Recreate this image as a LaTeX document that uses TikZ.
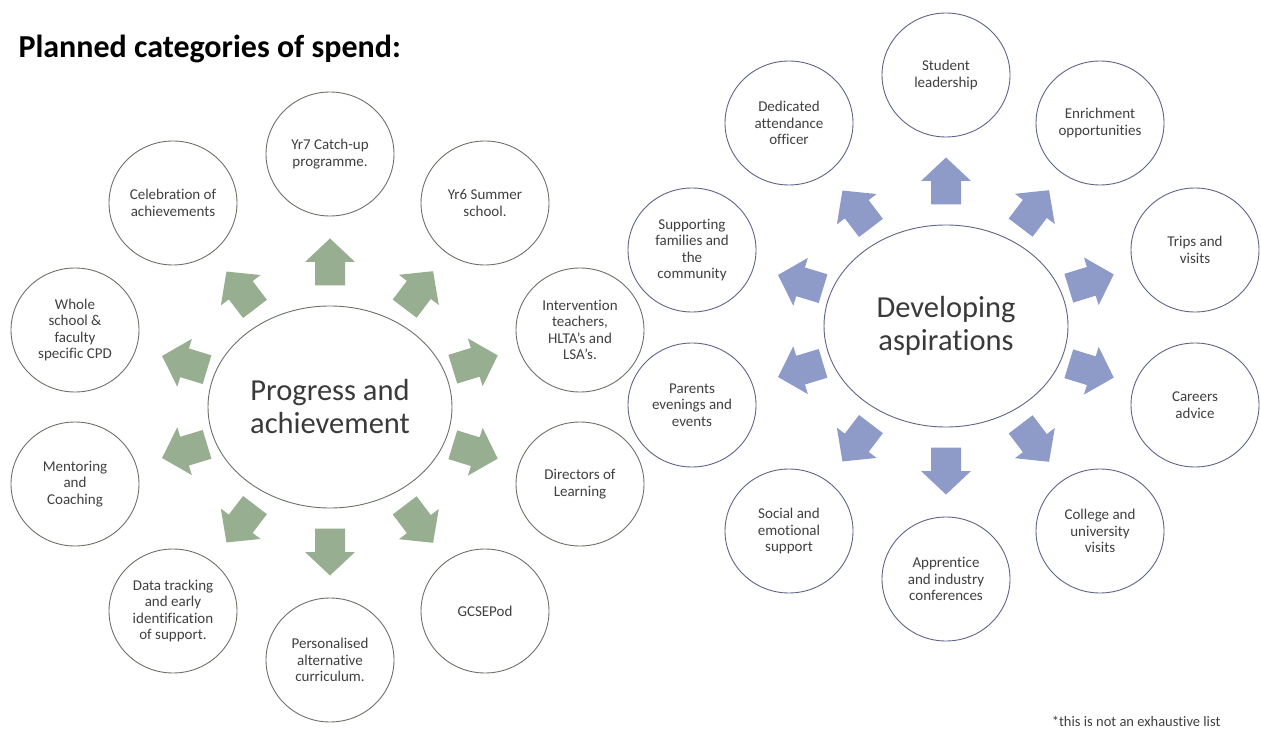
\documentclass[tikz,border=0pt]{standalone}
\usepackage{fontspec}
\setmainfont{Carlito}[Ligatures=NoCommon]
\usetikzlibrary{shapes.geometric,calc}
\definecolor{arrL}{HTML}{97AE90}
\definecolor{arrR}{HTML}{8E9AC8}
\definecolor{lineL}{HTML}{6B7266}
\definecolor{lineR}{HTML}{5F6488}
\definecolor{txt}{HTML}{404040}
\definecolor{txtC}{HTML}{3A3A3A}
\begin{document}
\begin{tikzpicture}[x=1pt,y=-1pt,
  satbase/.style={ellipse, line width=0.9pt, minimum width=128pt, minimum height=124pt,
    inner sep=0pt, align=center, text=txt, font=\fontsize{15}{16.4}\selectfont},
  satL/.style={satbase, draw=lineL},
  satR/.style={satbase, draw=lineR},
  hubbase/.style={ellipse, line width=0.9pt, minimum width=244pt, minimum height=202pt,
    inner sep=0pt, align=center, text=txtC, font=\fontsize{30.5}{33}\selectfont},
  hubL/.style={hubbase, draw=lineL},
  hubR/.style={hubbase, draw=lineR},
  blockarrow/.style={fill=#1}
]
\useasboundingbox (0,0) rectangle (1261,735);
\fill[white] (0,0) rectangle (1261,735);

\node[anchor=base west, font=\bfseries\fontsize{32}{32}\selectfont, text=black] (title) at (15,58) {Planned categories of spend:};

\coordinate (L) at (330,407);
\coordinate (R) at (946,326);

% ---------- left cluster ----------
\node[hubL] (pa) at (L) {Progress and\\achievement};
\node[satL] (l1) at ($(L)+(0,-253)$) {Yr7 Catch-up\\programme.};
\node[satL] (l2) at ($(L)+(155,-204)$) {Yr6 Summer\\school.};
\node[satL] (l3) at ($(L)+(250,-77)$) {Intervention\\teachers,\\HLTA's and\\LSA's.};
\node[satL] (l4) at ($(L)+(250,77)$) {Directors of\\Learning};
\node[satL] (l5) at ($(L)+(155,204)$) {GCSEPod};
\node[satL] (l6) at ($(L)+(0,253)$) {Personalised\\alternative\\curriculum.};
\node[satL] (l7) at ($(L)+(-157,204)$) {Data tracking\\and early\\identification\\of support.};
\node[satL] (l8) at ($(L)+(-255,77)$) {Mentoring\\and\\Coaching};
\node[satL] (l9) at ($(L)+(-255,-77)$) {Whole\\school \&\\faculty\\specific CPD};
\node[satL] (l10) at ($(L)+(-157,-204)$) {Celebration of\\achievements};

\foreach \a/\d in {90/145, 52.8/147, 17.1/152, -17.1/152, -52.8/147, -90/145,
                   -127.4/147, -163.1/152, 163.1/152, 127.4/147}{
  \fill[blockarrow=arrL, shift={(L)}, rotate=\a, xshift=\d pt]
    (-23.5,-15) -- (0,-15) -- (0,-25) -- (23.5,0) -- (0,25) -- (0,15) -- (-23.5,15) -- cycle;
}

% ---------- right cluster ----------
\node[hubR] (da) at (R) {Developing\\aspirations};
\node[satR] (r1) at ($(R)+(0,-251)$) {Student\\leadership};
\node[satR] (r2) at ($(R)+(154,-203)$) {Enrichment\\opportunities};
\node[satR] (r3) at ($(R)+(249,-76)$) {Trips and\\visits};
\node[satR] (r4) at ($(R)+(249,79)$) {Careers\\advice};
\node[satR] (r5) at ($(R)+(154,205)$) {College and\\university\\visits};
\node[satR] (r6) at ($(R)+(0,253)$) {Apprentice\\and industry\\conferences};
\node[satR] (r7) at ($(R)+(-157,205)$) {Social and\\emotional\\support};
\node[satR] (r8) at ($(R)+(-254,79)$) {Parents\\evenings and\\events};
\node[satR] (r9) at ($(R)+(-254,-76)$) {Supporting\\families and\\the\\community};
\node[satR] (r10) at ($(R)+(-157,-203)$) {Dedicated\\attendance\\officer};

\foreach \a/\d in {90/145, 52.8/147, 17.1/152, -17.1/152, -52.8/147, -90/145,
                   -127.4/147, -163.1/152, 163.1/152, 127.4/147}{
  \fill[blockarrow=arrR, shift={(R)}, rotate=\a, xshift=\d pt]
    (-23.5,-15) -- (0,-15) -- (0,-25) -- (23.5,0) -- (0,25) -- (0,15) -- (-23.5,15) -- cycle;
}

\node[anchor=base east, text=txt, font=\fontsize{14.5}{15}\selectfont] (note) at (1224,726) {*this is not an exhaustive list};
\end{tikzpicture}
\end{document}
